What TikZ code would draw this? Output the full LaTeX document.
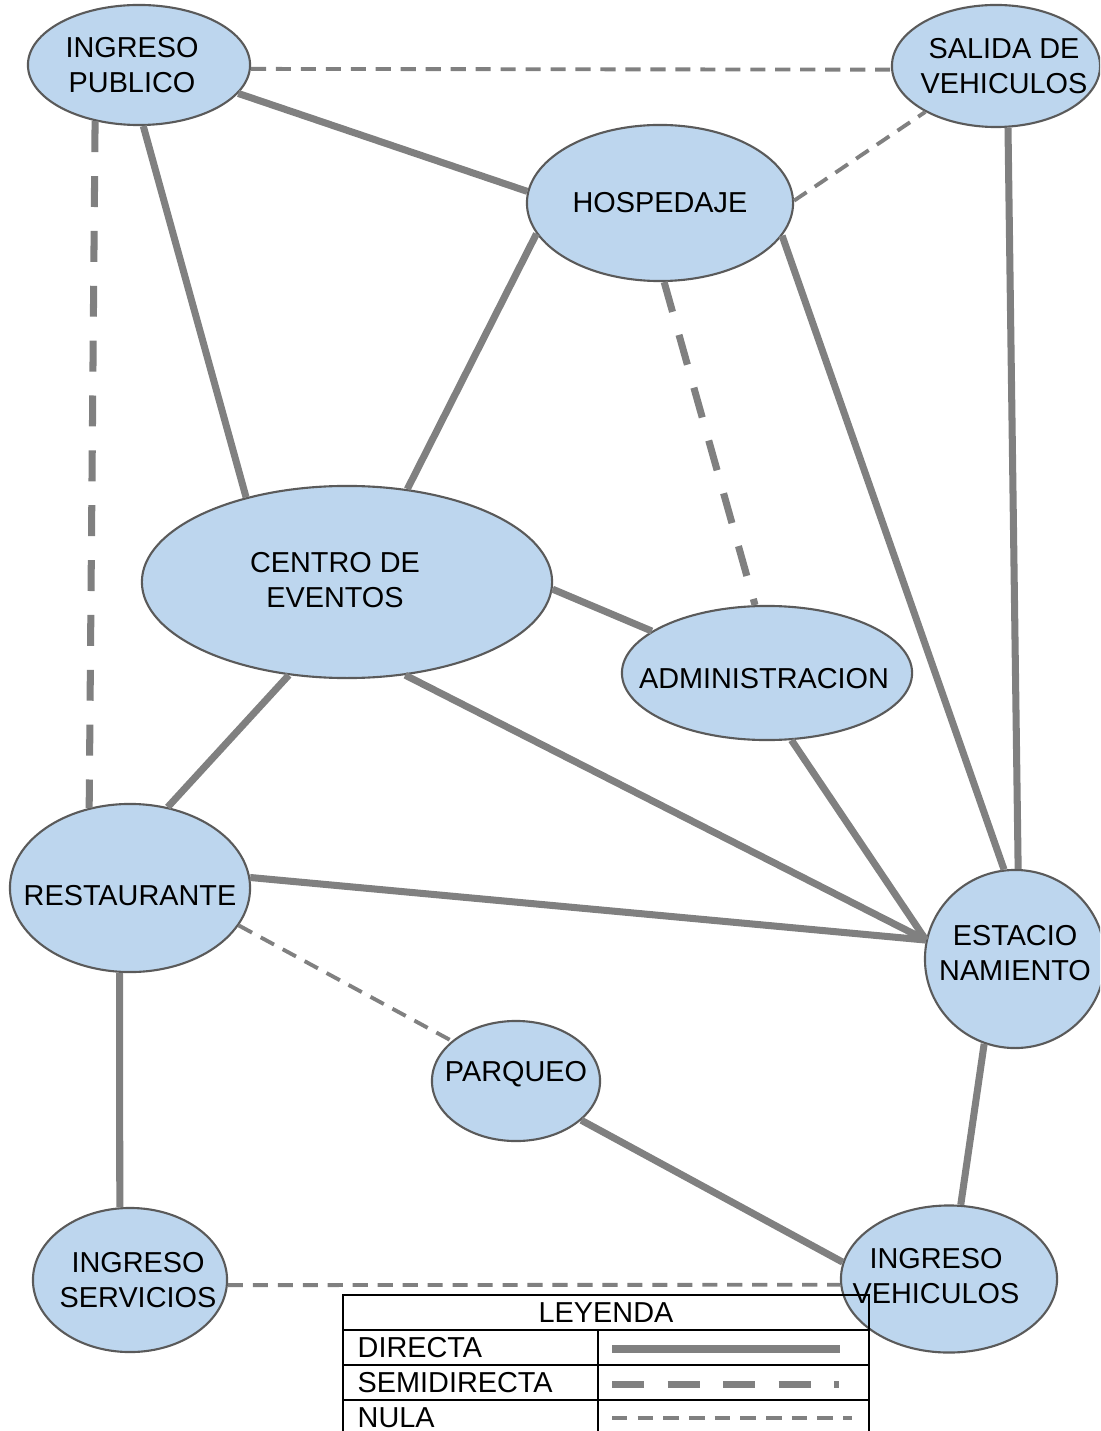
\documentclass[tikz,border=0pt]{standalone}
\usepackage{fontspec}
\setmainfont{Liberation Sans}
\usetikzlibrary{shapes.geometric}
\definecolor{lineagris}{HTML}{808080}
\definecolor{fondo}{HTML}{BDD6EE}
\definecolor{borde}{HTML}{5A5A5A}

\begin{document}
\begin{tikzpicture}[x=0.01cm,y=-0.01cm,font=\fontsize{8.2}{10}\selectfont,
 zona/.style={draw=borde,fill=fondo,ellipse,line width=0.6pt,inner sep=0pt},
 etiq/.style={align=center,inner sep=0pt},
 directa/.style={draw=lineagris,line width=2pt},
 semi/.style={draw=lineagris,line width=2pt,dash pattern=on 8.8pt off 6.8pt},
 nula/.style={draw=lineagris,line width=1.1pt,dash pattern=on 4.3pt off 2.8pt}]
\useasboundingbox (0,0) rectangle (1100,1431);
\clip (0,0) rectangle (1100,1431);
% zonas
\node[zona,minimum width=2.22cm,minimum height=1.2cm,label={[etiq,xshift=-0.07cm]center:INGRESO\\PUBLICO}] (ip) at (139,65) {};
\node[zona,minimum width=2.08cm,minimum height=1.22cm,label={[etiq,xshift=0.08cm]center:SALIDA DE\\VEHICULOS}] (sal) at (996,66) {};
\node[zona,minimum width=2.66cm,minimum height=1.56cm,label={[etiq]center:HOSPEDAJE}] (hosp) at (660,203) {};
\node[zona,minimum width=4.1cm,minimum height=1.92cm,label={[etiq,xshift=-0.12cm,yshift=0.02cm]center:CENTRO DE\\EVENTOS}] (ce) at (347,582) {};
\node[zona,minimum width=2.9cm,minimum height=1.34cm,label={[etiq,xshift=-0.03cm,yshift=-0.06cm]center:ADMINISTRACION}] (adm) at (767,673) {};
\node[zona,minimum width=2.4cm,minimum height=1.68cm,label={[etiq,yshift=-0.08cm]center:RESTAURANTE}] (rest) at (130,888) {};
\node[zona,minimum width=1.8cm,minimum height=1.78cm,label={[etiq,yshift=0.06cm]center:ESTACIO\\NAMIENTO}] (est) at (1015,959) {};
\node[zona,minimum width=1.68cm,minimum height=1.2cm,label={[etiq,yshift=0.07cm]center:PARQUEO}] (parq) at (516,1081) {};
\node[zona,minimum width=1.94cm,minimum height=1.44cm,label={[etiq,xshift=0.08cm]center:INGRESO\\SERVICIOS}] (iserv) at (130,1280) {};
\node[zona,minimum width=2.16cm,minimum height=1.47cm,label={[etiq,xshift=-0.13cm,yshift=0.03cm]center:INGRESO\\VEHICULOS}] (iveh) at (949,1279) {};
% relaciones directas
\draw[directa] (ip.-16) -- (hosp.175);
\draw[directa] (ip.-86) -- (ce.140);
\draw[directa] (hosp.-166) -- (ce.57);
\draw[directa] (hosp.-15) -- (est.97);
\draw[directa] (sal.-79) -- (est.88);
\draw[directa] (ce.-2) -- (adm.160);
\draw[directa] (ce.-122) -- (rest.65);
\draw[directa] (ce.-58) -- (est.168);
\draw[directa] (adm.-70) -- (est.168);
\draw[directa] (rest.5) -- (est.168);
\draw[directa] (rest.-97) -- (iserv.98);
\draw[directa] (est.-110) -- (iveh.81);
\draw[directa] (parq.-31) -- (iveh.171);
% semidirectas
\draw[semi] (ip.-128) -- (rest.117);
\draw[semi] (hosp.-87) -- (adm.100);
% nulas
\draw[nula] (ip.-2) -- (sal.182);
\draw[nula] (hosp.1) -- (sal.-147);
\draw[nula] (rest.-19) -- (parq.148);
\draw[nula] (iserv.-3) -- (iveh.-177);
% leyenda
\draw[line width=0.7pt] (343,1295) rectangle (869,1445);
\draw[line width=0.7pt] (343,1330) -- (869,1330) (343,1365) -- (869,1365) (343,1400) -- (869,1400)
  (598,1330) -- (598,1445);
\node (ley) at (606,1313) {LEYENDA};
\node[anchor=west,inner sep=0pt] (tdir) at (357,1348) {DIRECTA};
\node[anchor=west,inner sep=0pt] (tsemi) at (357,1383) {SEMIDIRECTA};
\node[anchor=west,inner sep=0pt] (tnula) at (357,1418) {NULA};
\coordinate (d1) at (612,1349); \coordinate (d2) at (840,1349);
\coordinate (s1) at (612,1384); \coordinate (s2) at (839,1384);
\coordinate (n1) at (612,1418); \coordinate (n2) at (852,1418);
\draw[directa] (d1) -- (d2);
\draw[semi,dash pattern=on 9.1pt off 6.7pt] (s1) -- (s2);
\draw[nula,dash pattern=on 4.4pt off 2.9pt] (n1) -- (n2);
\end{tikzpicture}
\end{document}
